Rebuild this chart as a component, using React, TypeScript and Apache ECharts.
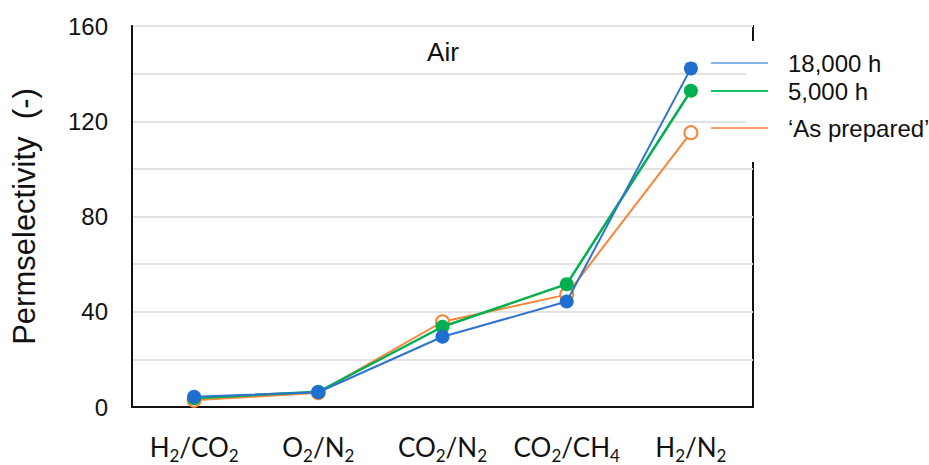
import React, { useEffect, useRef } from "react";
import * as echarts from "echarts";

// Gas pairs on the x axis (digits are drawn as subscripts)
const categories = ["H2/CO2", "O2/N2", "CO2/N2", "CO2/CH4", "H2/N2"];

// Permselectivity after each ageing time
const seriesNames = ["18,000 h", "5,000 h", "\u2018As prepared\u2019"];
const h18000 = [4.3, 6.2, 29.5, 44.3, 142.2];
const h5000 = [3.7, 6.4, 33.7, 51.6, 132.8];
const asPrepared = [2.8, 6.0, 35.8, 47.2, 115.2];

const yTicks = { min: 0, max: 160, interval: 40 };

const SANS = "'Liberation Sans', Arial, sans-serif";
const LABEL_FONT = "Lato, 'Open Sans', sans-serif";

// "CO2/CH4" -> "{m|CO}{s|2}{m|/CH}{s|4}"
const toRich = (s: string) =>
  s
    .split(/(\d+)/)
    .filter((p) => p.length > 0)
    .map((p) => (/^\d+$/.test(p) ? `{s|${p}}` : `{m|${p}}`))
    .join("");

export default function App() {
  const ref = useRef<HTMLDivElement>(null);

  useEffect(() => {
    if (!ref.current) return;
    document.body.style.margin = "0";
    const chart = echarts.init(ref.current, undefined, { renderer: "svg" });

    const legendAt = (name: string, color: string, top: number) => ({
      show: true,
      left: 711,
      top,
      padding: 0,
      z: 20,
      icon: "rect",
      itemWidth: 57,
      itemHeight: 2,
      data: [{ name, itemStyle: { color, borderWidth: 0 } }],
      textStyle: {
        fontFamily: SANS,
        fontSize: 24,
        color: "#111",
        padding: [0, 0, 0, 15],
      },
      selectedMode: false,
    });

    chart.setOption({
      animation: false,
      backgroundColor: "#fff",
      grid: {
        left: 132,
        right: 176,
        top: 26,
        bottom: 58,
        show: true,
        borderColor: "#111",
        borderWidth: 2,
        backgroundColor: "transparent",
      },
      legend: [
        legendAt(seriesNames[0], "#84b4e6", 51),
        legendAt(seriesNames[1], "#14c06a", 79),
        legendAt(seriesNames[2], "#f7a067", 116),
      ],
      xAxis: {
        type: "category",
        data: categories,
        boundaryGap: true,
        axisLine: { show: true, lineStyle: { color: "#111", width: 2 } },
        axisTick: { show: false },
        splitLine: { show: false },
        axisLabel: {
          interval: 0,
          margin: 27,
          color: "#111",
          formatter: (v: string) => toRich(v),
          rich: {
            m: {
              fontFamily: LABEL_FONT,
              fontSize: 26,
              lineHeight: 30,
              verticalAlign: "top",
              color: "#111",
            },
            s: {
              fontFamily: LABEL_FONT,
              fontSize: 17,
              lineHeight: 14,
              verticalAlign: "bottom",
              color: "#111",
            },
          },
        },
      },
      yAxis: {
        type: "value",
        min: yTicks.min,
        max: yTicks.max,
        interval: yTicks.interval,
        name: "Permselectivity  (-)",
        nameLocation: "middle",
        nameGap: 92,
        nameTextStyle: { fontFamily: SANS, fontSize: 31, color: "#111" },
        axisLine: { show: true, lineStyle: { color: "#111", width: 2 } },
        axisTick: { show: false },
        axisLabel: {
          margin: 24,
          fontFamily: SANS,
          fontSize: 24,
          color: "#111",
        },
        splitLine: { show: true, lineStyle: { color: "#e2e2e2", width: 2 } },
        minorTick: { show: false, splitNumber: 2 },
        minorSplitLine: { show: true, lineStyle: { color: "#e2e2e2", width: 2 } },
      },
      graphic: [
        {
          type: "rect",
          z: 10,
          shape: { x: 746, y: 41, width: 183, height: 121 },
          style: { fill: "#fff" },
          silent: true,
        },
        {
          type: "text",
          z: 10,
          x: 443,
          y: 52,
          style: {
            text: "Air",
            fontFamily: SANS,
            fontSize: 26,
            fill: "#111",
            align: "center",
            verticalAlign: "middle",
          },
          silent: true,
        },
      ],
      series: [
        {
          name: seriesNames[2],
          type: "line",
          data: asPrepared,
          symbol: "emptyCircle",
          symbolSize: 13,
          lineStyle: { color: "#f7853a", width: 2 },
          itemStyle: { color: "#f7853a", borderWidth: 2 },
          z: 2,
        },
        {
          name: seriesNames[1],
          type: "line",
          data: h5000,
          symbol: "circle",
          symbolSize: 14,
          lineStyle: { color: "#00b050", width: 2.5 },
          itemStyle: { color: "#00b050" },
          z: 3,
        },
        {
          name: seriesNames[0],
          type: "line",
          data: h18000,
          symbol: "circle",
          symbolSize: 14,
          lineStyle: { color: "#2f73d0", width: 2 },
          itemStyle: { color: "#1f6fd1" },
          z: 4,
        },
      ],
    });

    return () => chart.dispose();
  }, []);

  return <div ref={ref} style={{ width: 929, height: 465 }} />;
}
